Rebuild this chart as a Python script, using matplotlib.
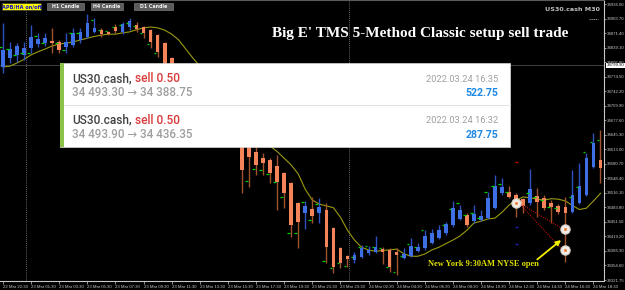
import matplotlib
matplotlib.use('Agg')
import matplotlib.pyplot as plt
from matplotlib.patches import Rectangle

# US30.cash M30 bars, index 0 = 22 Mar 22:30
opens = [34796, 34816, 34823, 34823, 34838, 34847, 34849, 34854, 34852, 34840,
         34845, 34856, 34863, 34874, 34878, 34874, 34885, 34874, 34885, 34889,
         34885, 34878, 34867, 34849, 34816, 34771, 34749, 34735, 34752, 34720,
         34700, 34712, 34680, 34660, 34634, 34622, 34607, 34593, 34589, 34576,
         34560, 34538, 34493, 34471, 34480, 34471, 34478, 34438, 34393, 34375,
         34366, 34373, 34382, 34384, 34391, 34389, 34384, 34371, 34375, 34386,
         34393, 34404, 34415, 34426, 34444, 34458, 34467, 34453, 34455, 34460,
         34482, 34515, 34518, 34511, 34502, 34493, 34509, 34504, 34493, 34487,
         34484, 34473, 34493, 34511, 34573, 34589]
highs = [34894, 34852, 34849, 34852, 34889, 34872, 34872, 34883, 34856, 34872,
         34883, 34883, 34914, 34905, 34883, 34876, 34892, 34896, 34905, 34896,
         34887, 34880, 34869, 34852, 34818, 34776, 34760, 34765, 34758, 34728,
         34722, 34716, 34690, 34668, 34638, 34625, 34618, 34605, 34593, 34600,
         34562, 34540, 34495, 34498, 34507, 34504, 34493, 34440, 34395, 34377,
         34384, 34400, 34398, 34420, 34395, 34393, 34393, 34393, 34415, 34404,
         34433, 34435, 34444, 34451, 34498, 34489, 34471, 34489, 34478, 34518,
         34556, 34549, 34531, 34515, 34504, 34569, 34527, 34511, 34500, 34491,
         34507, 34567, 34582, 34605, 34649, 34656]
lows = [34782, 34805, 34807, 34811, 34827, 34840, 34843, 34827, 34827, 34827,
        34840, 34849, 34860, 34872, 34863, 34867, 34872, 34869, 34878, 34874,
        34860, 34838, 34818, 34789, 34758, 34740, 34725, 34728, 34712, 34690,
        34692, 34670, 34650, 34640, 34515, 34529, 34556, 34556, 34538, 34478,
        34482, 34418, 34393, 34435, 34449, 34449, 34360, 34337, 34349, 34351,
        34360, 34371, 34377, 34382, 34357, 34340, 34333, 34369, 34373, 34384,
        34389, 34402, 34413, 34422, 34440, 34455, 34440, 34449, 34453, 34458,
        34480, 34511, 34504, 34462, 34471, 34489, 34462, 34478, 34449, 34469,
        34362, 34471, 34491, 34509, 34571, 34538]
closes = [34834, 34836, 34843, 34838, 34863, 34858, 34860, 34849, 34834, 34852,
          34872, 34874, 34894, 34883, 34869, 34869, 34876, 34892, 34898, 34880,
          34872, 34852, 34829, 34798, 34771, 34749, 34735, 34752, 34720, 34700,
          34712, 34680, 34660, 34650, 34567, 34596, 34578, 34582, 34560, 34540,
          34515, 34444, 34451, 34487, 34464, 34484, 34395, 34351, 34360, 34369,
          34377, 34393, 34389, 34395, 34384, 34351, 34377, 34380, 34398, 34395,
          34420, 34426, 34433, 34446, 34482, 34478, 34444, 34469, 34464, 34504,
          34531, 34529, 34507, 34489, 34487, 34524, 34495, 34482, 34484, 34473,
          34471, 34511, 34531, 34593, 34627, 34571]
# moving average (olive line)
ma = [34796, 34798, 34805, 34813, 34823, 34830, 34836, 34843, 34847, 34849,
      34852, 34856, 34860, 34864, 34867, 34869, 34869, 34872, 34874, 34879,
      34883, 34885, 34883, 34878, 34869, 34856, 34836, 34816, 34798, 34778,
      34758, 34736, 34714, 34691, 34671, 34656, 34642, 34631, 34620, 34608,
      34593, 34578, 34558, 34524, 34500, 34491, 34487, 34483, 34462, 34433,
      34411, 34395, 34389, 34386, 34388, 34389, 34391, 34381, 34375, 34375,
      34380, 34389, 34395, 34403, 34411, 34420, 34433, 34449, 34453, 34458,
      34460, 34473, 34489, 34500, 34507, 34505, 34502, 34500, 34503, 34502,
      34498, 34488, 34479, 34482, 34498, 34515]
# green indicator dashes
dash_bar = [0, 1, 2, 3, 4, 5, 6, 8, 9, 10, 11, 13, 14, 15, 16, 17, 18, 19, 20, 21, 22,
            35, 36, 37, 38, 39, 40, 41, 42, 43, 44, 45, 46, 47, 48, 49, 50, 51, 52, 53,
            54, 55, 56, 57, 58, 59, 60, 63, 64, 65, 66, 67, 68, 69, 70, 71, 72,
            75, 76, 77, 78, 79, 81, 82, 83, 84, 85]
dash_price = [34840, 34836, 34823, 34827, 34827, 34865, 34849, 34849, 34834, 34872, 34872,
              34900, 34878, 34876, 34885, 34889, 34894, 34887, 34872, 34847, 34827,
              34542, 34569, 34567, 34558, 34540, 34507, 34426, 34426, 34495, 34455, 34491,
              34364, 34349, 34360, 34353, 34373, 34395, 34398, 34395, 34393, 34351, 34340,
              34375, 34402, 34395, 34433, 34444, 34480, 34493, 34467, 34471, 34460, 34518,
              34531, 34536, 34518, 34515, 34507, 34500, 34484, 34482, 34507, 34529, 34607,
              34629, 34633]

time_labels = ['22 Mar 22:30', '23 Mar 01:30', '23 Mar 03:30', '23 Mar 05:30', '23 Mar 07:30',
               '23 Mar 09:30', '23 Mar 11:30', '23 Mar 13:30', '23 Mar 15:30', '23 Mar 17:30',
               '23 Mar 19:30', '23 Mar 21:30', '23 Mar 23:30', '24 Mar 02:30', '24 Mar 04:30',
               '24 Mar 06:30', '24 Mar 08:30', '24 Mar 10:30', '24 Mar 12:30', '24 Mar 14:30',
               '24 Mar 16:30', '24 Mar 18:30']
price_ticks = [34936.00, 34903.70, 34871.40, 34839.10, 34806.80, 34774.50, 34742.20,
               34709.90, 34677.60, 34645.30, 34613.00, 34580.70, 34548.40, 34516.10,
               34483.80, 34451.50, 34419.20, 34386.90, 34354.60, 34321.75]
bid_line = 34799.90

# trades
entry_bar = 73
exit_bar = 80
entries = [34493.30, 34493.90]
exits = [34388.75, 34436.35]

small_font = 'Liberation Sans'
pop_font = ['Roboto', 'DejaVu Sans']

fig = plt.figure(figsize=(6.25, 2.9), dpi=100, facecolor='black')
ax = fig.add_axes([0, 9 / 290, 604 / 625, 281 / 290])
ax.set_facecolor('black')
ax.set_xlim(-0.43, 85.5)
ax.set_ylim(34320, 34945)

# day separators
for xs in [3.3, 49.2]:
    ax.axvline(xs, color='#8a8a8a', lw=0.6, ls=(0, (1, 1.5)), zorder=1)

ax.axhline(bid_line, color='#4a4a4a', lw=0.6, zorder=1)

ax.plot(range(len(ma)), ma, color='#9a9a10', lw=0.8, zorder=2)

for i in range(len(opens)):
    o, h, l, c = opens[i], highs[i], lows[i], closes[i]
    if c >= o:
        body_c, wick_c = '#3f6fe4', '#2f50c0'
    else:
        body_c, wick_c = '#f5845a', '#a0522d'
    ax.vlines(i, l, h, color=wick_c, lw=1.0, zorder=3)
    lo = min(o, c)
    hgt = max(abs(c - o), 2)
    ax.bar(i, hgt, bottom=lo, width=0.52, color=body_c, lw=0, zorder=4)

for b, p in zip(dash_bar, dash_price):
    ax.hlines(p, b - 0.55, b - 0.2, color='#00d000', lw=0.9, zorder=5)

# trade lines and points
for en, ex in zip(entries, exits):
    ax.plot([entry_bar + 0.4, exit_bar - 0.4], [en, ex], color='#c01010', lw=0.7,
            ls=(0, (1.2, 1.2)), zorder=6)
for xb, p in [(entry_bar, entries[0]), (exit_bar, exits[0]), (exit_bar, exits[1])]:
    ax.scatter(xb, p, s=45, color='#f2ece6', edgecolors='#d8d0c8', linewidths=0.8, zorder=7)
    ax.scatter(xb, p, s=5, color='#f08040', lw=0, zorder=8)
ax.hlines(34584, entry_bar - 0.2, entry_bar + 0.2, color='#c00000', lw=1.0, zorder=6)
ax.hlines([34440, 34402], entry_bar - 0.2, entry_bar + 0.2, color='#2020b0', lw=1.0, zorder=6)

ax.annotate('', xy=(79.7, 34415), xytext=(75.7, 34364),
            arrowprops=dict(arrowstyle='-|>', color='#f0f000', lw=1.3, mutation_scale=7),
            zorder=9)
ax.text(68.3, 34358, 'New York 9:30AM NYSE open', color='#e0e000', fontsize=6,
        fontweight='bold', family='Liberation Serif', ha='center', va='center', zorder=9)

# axes styling
ax.spines['left'].set_visible(False)
ax.spines['top'].set_color('#5a5a5a')
ax.spines['right'].set_color('#c8c8c8')
ax.spines['bottom'].set_color('#c8c8c8')
ax.spines['right'].set_linewidth(0.8)
ax.spines['bottom'].set_linewidth(0.8)

ax.yaxis.tick_right()
ax.set_yticks(price_ticks)
ax.set_yticklabels(['%.2f' % v for v in price_ticks], family=small_font)
ax.tick_params(axis='y', colors='#c8c8c8', labelsize=3.1, length=1.5, width=0.5, pad=0.8)

ax.set_xticks([4 * i for i in range(len(time_labels))])
ax.set_xticklabels(time_labels, ha='left', family=small_font)
ax.tick_params(axis='x', colors='#c8c8c8', labelsize=3.1, length=2, width=0.5, pad=1)

ax.text(1.004, bid_line, '%.2f' % bid_line, transform=ax.get_yaxis_transform(),
        ha='left', va='center', fontsize=3.1, family=small_font, color='black', zorder=10,
        bbox=dict(boxstyle='square,pad=0.15', fc='white', ec='none'), clip_on=False)

# overlay in pixel coords
ov = fig.add_axes([0, 0, 1, 1], zorder=5)
ov.set_xlim(0, 625)
ov.set_ylim(290, 0)
ov.axis('off')
ov.patch.set_alpha(0)

# buttons
ov.add_patch(Rectangle((2, 3), 39, 7, fc='#ffff00', ec='#303030', lw=0.5))
ov.text(21.5, 6.6, 'APB/HA on/off', color='#1010c0', fontsize=3.6, fontweight='bold',
        ha='center', va='center')
for x0, w, lab in [(47, 37, 'H1 Candle'), (91, 32, 'H4 Candle'), (134, 39, 'D1 Candle')]:
    ov.add_patch(Rectangle((x0, 3), w, 7, fc='#5c5c5c', ec='#787878', lw=0.5))
    ov.text(x0 + w / 2, 6.6, lab, color='#f0f0f0', fontsize=3.4, fontweight='bold',
            ha='center', va='center')

ov.text(600, 9.5, 'US30.cash M30', color='#c0c0c0', fontsize=4.6, fontweight='bold',
        ha='right', va='center')
ov.plot([589, 598], [19, 19], color='#b0b0b0', lw=0.6, ls=(0, (1.5, 1)))

ov.text(420, 33.5, "Big E' TMS 5-Method Classic setup sell trade", color='white',
        fontsize=11, fontweight='bold', family='Liberation Serif', ha='center', va='center')

# popup with the two closed trades
ov.add_patch(Rectangle((60, 63), 450, 84, fc='white', ec='#d8d8d8', lw=0.5))
ov.add_patch(Rectangle((60, 63), 3.5, 84, fc='#8bc34a', ec='none'))
ov.plot([63.5, 510], [105, 105], color='#e2e2e2', lw=0.7)
rows = [('34 493.30 \u2192 34 388.75', '2022.03.24 16:35', '522.75'),
        ('34 493.90 \u2192 34 436.35', '2022.03.24 16:32', '287.75')]
for r, (prices, stamp, profit) in enumerate(rows):
    y0 = 63 + 41.5 * r
    t1 = ov.text(72, y0 + 15.5, 'US30.cash,', color='#404040', fontsize=8.6,
                 fontweight='medium', family=pop_font, ha='left', va='center')
    ov.annotate('sell 0.50', xy=(1, 0.5), xycoords=t1, xytext=(2.2, 0),
                textcoords='offset points', color='#d93a3a', fontsize=8.6,
                fontweight='medium', family=pop_font, ha='left', va='center')
    ov.text(72, y0 + 29.5, prices, color='#9e9e9e', fontsize=8.4, fontweight='medium',
            family=pop_font, ha='left', va='center')
    ov.text(498, y0 + 16, stamp, color='#a0a0a0', fontsize=6.7, family=pop_font,
            ha='right', va='center')
    ov.text(498, y0 + 30, profit, color='#1e88e5', fontsize=7.6, fontweight='bold',
            family=pop_font, ha='right', va='center')

fig.savefig('out.png', dpi=100, facecolor='black')
